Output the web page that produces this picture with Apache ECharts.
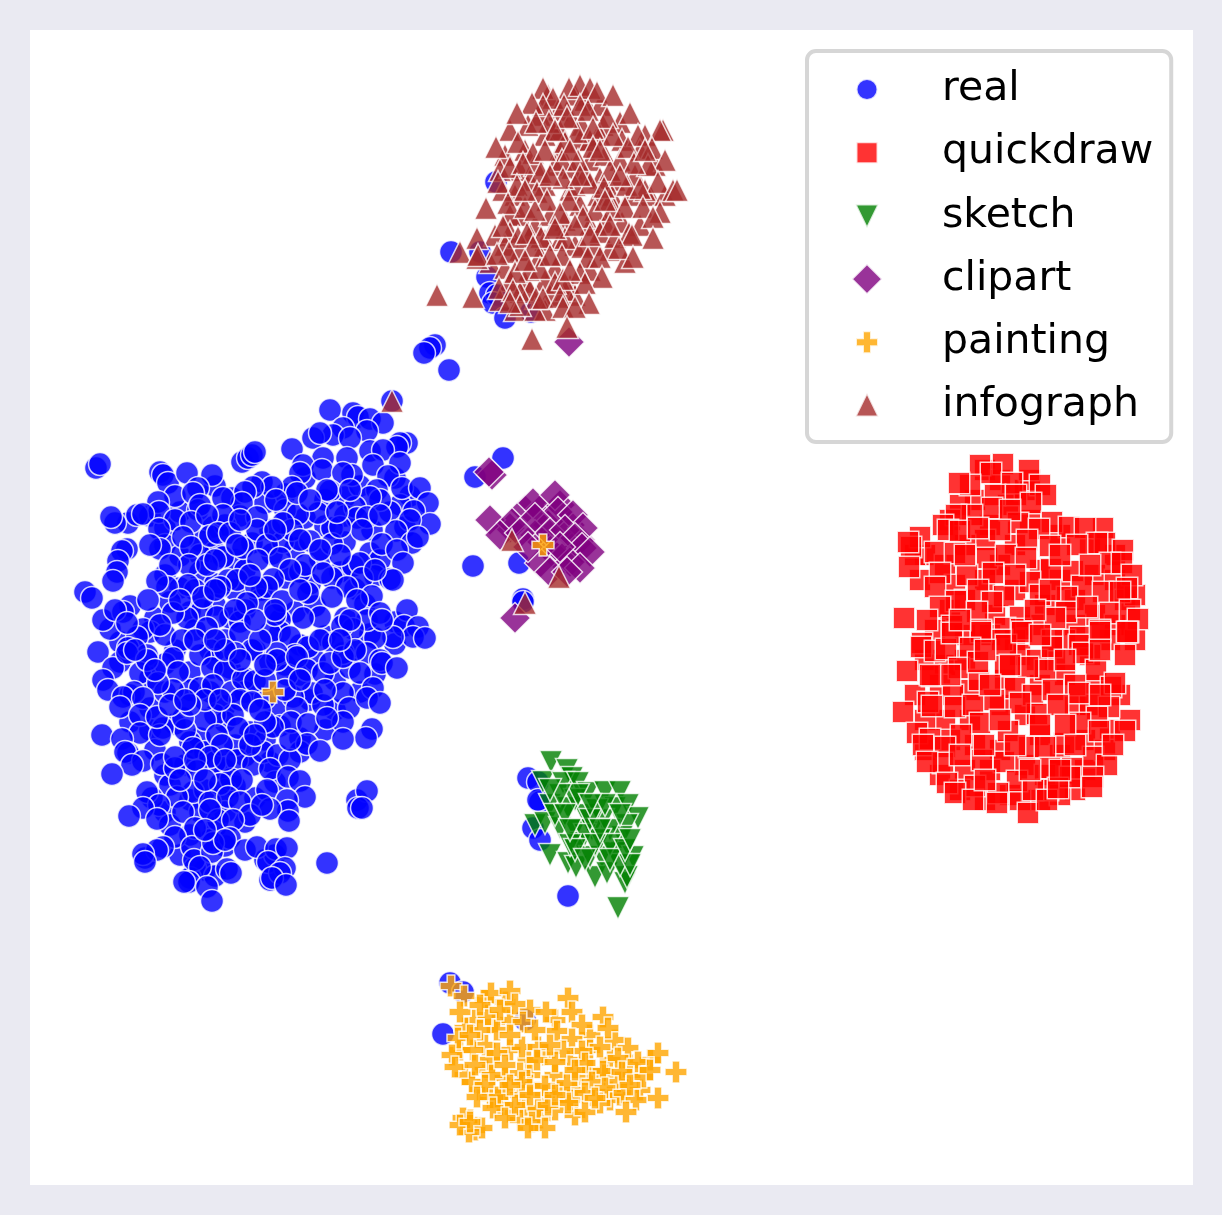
<!DOCTYPE html>
<html>
<head>
<meta charset="utf-8">
<style>
  html, body { margin: 0; padding: 0; background: #eaeaf2; }
  #chart { width: 1222px; height: 1215px; }
</style>
<script src="https://cdn.jsdelivr.net/npm/echarts@6/dist/echarts.min.js"></script>
</head>
<body>
<div id="chart"></div>
<script>
// embedding values (x, y), axis runs 30-1193 / 30-1185
const domains = ['real', 'quickdraw', 'sketch', 'clipart', 'painting', 'infograph'];

const real = [
[215,486],[232,498],[262,482],[285,494],[305,478],[345,497],[360,486],[395,478],[410,496],[265,503],[325,500],[400,505],
[150,516],[165,528],[180,512],[213,527],[240,516],[270,530],[305,518],[325,526],[345,516],[372,530],[390,512],[405,527],[225,525],[285,510],
[165,545],[180,556],[200,541],[215,552],[235,560],[252,543],[272,554],[295,548],[320,559],[345,542],[370,553],[380,560],[200,555],[283,542],
[165,575],[180,588],[200,572],[215,584],[245,570],[262,590],[285,578],[310,584],[340,572],[355,589],[375,576],[195,590],[235,590],[300,572],
[130,606],[155,618],[170,602],[190,612],[215,605],[230,618],[260,600],[295,612],[315,606],[345,618],[365,604],[395,622],[245,610],[280,620],
[120,642],[150,632],[175,650],[195,630],[225,640],[255,650],[280,632],[300,645],[325,636],[355,648],[370,634],[395,644],[210,650],[240,622],
[120,662],[150,678],[165,664],[190,672],[215,660],[245,678],[270,662],[300,675],[315,660],[335,680],[350,668],[375,674],[230,668],[285,665],
[130,695],[150,708],[165,692],[190,690],[225,706],[245,692],[275,708],[310,700],[335,710],[360,692],[210,692],[265,698],
[130,722],[150,730],[175,724],[200,738],[225,722],[250,732],[280,726],[300,738],[325,730],[190,742],[215,715],[265,740],
[155,750],[185,765],[205,752],[225,770],[245,756],[270,762],[300,752],[165,775],[235,745],[215,762],
[170,785],[190,800],[205,790],[235,786],[255,798],[275,782],[225,790],[165,812],
[200,812],[215,828],[245,822],[210,840],[170,825],[225,812],[190,835],
[180,855],[205,870],[225,846],[195,868],[215,876],[265,860],[275,855],[145,858],[270,880],[190,878],
[96,468],[100,464],[160,472],[163,475],[168,483],[187,473],[212,475],[175,496],[198,488],[193,493],[242,462],[248,458],[252,455],[255,452],
[330,410],[353,413],[358,417],[370,419],[392,401],[383,423],[343,428],[333,435],[313,438],[367,431],[350,438],[320,433],[407,443],[400,443],[397,447],[370,451],[383,450],[292,449],
[347,458],[323,458],[303,465],[322,470],[352,475],[343,473],[373,465],[400,463],[388,476],[300,473],[402,488],[420,488],[330,491],[327,490],[377,490],[380,500],[370,497],[428,503],[414,511],[430,524],[410,520],[396,531],[412,543],[418,537],[382,544],[397,550],[403,563],[390,579],[393,580],
[355,507],[357,518],[367,517],[380,515],[362,530],[332,528],[332,544],[340,527],[318,513],[337,512],[298,514],[292,530],[310,541],[300,540],[283,523],[292,487],[297,493],[272,487],[276,500],[253,487],[245,492],[242,503],[257,517],[223,498],[198,510],[200,505],[158,502],[159,512],[175,520],[191,522],[223,515],[207,515],[257,530],
[128,523],[115,523],[111,517],[137,515],[143,514],[159,529],[183,537],[210,536],[218,533],[230,533],[191,547],[160,549],[243,548],[267,545],[258,560],[280,558],[223,557],[237,545],[305,565],[290,570],[189,565],[207,565],[170,565],[127,549],[122,551],[118,561],[117,572],[113,581],[228,580],[237,580],[220,587],[273,579],[267,587],[256,587],[188,585],[167,587],[157,581],[85,592],[92,598],[148,600],
[353,566],[360,563],[332,578],[323,573],[362,578],[347,587],[308,593],[332,597],[372,596],[357,600],[407,610],[404,626],[418,627],[413,637],[425,638],[393,637],[375,638],[367,620],[353,629],[342,626],[380,613],[382,620],[320,617],[303,618],[282,601],[247,603],[202,610],[217,617],[187,618],[173,613],[203,597],[207,628],[240,633],[270,633],[290,637],[308,647],[343,653],[333,643],[367,653],[380,660],[165,635],[182,640],[143,629],[137,637],[110,629],[103,620],[123,612],[115,610],[127,623],[128,648],[98,652],[147,655],[200,655],[252,650],[235,653],[295,655],[277,653],
[113,668],[103,680],[108,690],[140,673],[127,653],[147,660],[173,658],[178,672],[173,690],[158,683],[134,692],[123,697],[120,707],[143,698],[212,668],[225,671],[200,688],[213,685],[232,692],[243,679],[255,681],[240,700],[252,702],[287,675],[277,660],[297,657],[307,670],[323,673],[330,663],[343,657],[360,673],[382,663],[397,668],[373,688],[312,693],[323,705],[343,693],[349,708],[367,698],[380,703],[293,697],[297,708],[291,722],[308,724],[343,722],[327,718],[372,729],[366,738],[343,739],[273,727],[265,722],[233,715],[238,728],[205,720],[217,735],[222,745],[185,730],[163,728],[140,715],[140,733],[160,735],[157,717],[183,718],
[102,735],[122,739],[128,753],[125,752],[143,761],[162,764],[175,768],[132,765],[112,774],[193,748],[175,757],[210,757],[197,771],[237,760],[253,765],[263,752],[278,755],[290,760],[270,769],[288,777],[307,744],[320,751],[300,781],[305,797],[267,790],[287,800],[288,811],[270,809],[289,821],[231,779],[220,784],[242,780],[193,792],[177,797],[152,798],[147,792],[159,805],[143,808],[210,802],[228,797],[240,802],[183,812],[250,815],[218,820],[233,820],[129,816],[157,819],[195,828],[175,837],[230,838],[163,847],[157,850],[143,854],[145,862],[192,847],[194,860],[212,852],[213,843],[200,867],[245,850],[257,847],[276,849],[287,848],[268,862],[285,868],[280,873],[272,878],[286,885],[227,869],[231,873],[189,882],[184,882],[207,887],[212,901],[327,863],[357,800],[367,791],[358,808],[362,808],
[150,545],[215,560],[250,575],[300,590],[275,615],[235,610],[195,640],[225,650],[260,640],[255,620],[320,640],[285,690],[265,680],[205,700],[190,705],[170,705],[195,760],[225,760],[250,745],[205,780],[180,780],[260,710],[325,690],[355,650],[155,670],[135,650],[160,625],[215,590],[180,600],[240,520],[275,530],[310,500],[350,490],[340,555],[275,610],[300,680],[220,700],[255,735],[290,740],[185,700],[240,660],[265,665],[215,640],[210,810],[225,840],[205,830],[262,805],[375,570],[320,550],[350,620],[340,640],
[451,252],[480,252],[496,182],[487,277],[490,293],[497,295],[493,303],[505,318],[531,312],[435,345],[430,348],[424,353],[449,370],
[503,458],[475,477],[473,566],[519,563],[523,599],[523,602],
[528,778],[538,782],[540,802],[538,800],[533,828],[540,840],[568,896],
[450,983],[463,992],[443,1034],[525,1020]
];

const quickdraw = [
[985,470],[1000,480],[975,500],[1008,505],[1025,490],[960,505],[950,520],[990,525],[1030,520],[1060,535],[1015,545],[985,540],[965,545],[1090,545],[1115,555],[925,555],[945,565],[1000,565],[1040,570],[1060,580],[1095,575],[1115,580],[920,580],[955,585],[985,580],[1015,590],[1075,600],[1125,600],[950,610],[965,600],[995,615],[1045,605],[1095,615],[1115,625],[935,630],[965,635],[1035,625],[1075,625],[990,635],[1015,640],[1065,640],[1110,640],[925,660],[945,665],[965,660],[1020,655],[1055,660],[1090,655],[940,685],[970,690],[1005,680],[1040,685],[1065,675],[1095,685],[1120,695],[915,695],[945,720],[970,720],[1025,715],[1075,705],[1090,705],[1000,705],[925,720],[950,740],[1040,735],[1085,740],[1110,730],[1000,750],[1060,755],[975,745],[925,750],[940,775],[965,770],[990,770],[1025,765],[1045,775],[1085,770],[1105,750],[1010,795],[1040,800],[1075,790],[985,800],[960,790],[1020,800],[1060,795],[1130,720],[1135,640],[1135,595],[915,555],[1030,480],
[980,465],[1003,464],[1029,470],[991,473],[970,485],[959,483],[1012,483],[1040,485],[1046,495],[995,495],[1016,495],[1031,503],[992,508],[972,515],[956,515],[1052,522],[1018,523],[1039,529],[1069,527],[943,525],[948,530],[960,531],[1103,528],[1085,528],[978,528],[920,537],[911,547],[908,542],[1027,540],[1105,543],[1097,543],[1077,545],[1050,546],[935,552],[955,553],[987,558],[1006,555],[1026,558],[1123,550],[1110,563],[909,567],[940,573],[1051,569],[1073,571],[1122,563],[1132,575],[993,573],[967,575],[1030,582],[1082,586],[935,587],[978,590],[1004,596],[992,602],[1040,595],[1103,592],[1127,588],[956,601],[1067,597],[1120,592],[940,607],[904,618],[927,620],[952,626],[977,612],[1020,617],[1066,612],[1087,607],[1110,613],[1130,610],[1138,619],[1055,618],[981,630],[1005,628],[1021,629],[1100,630],[1128,632],[922,643],[1080,637],[1052,640],[1002,640],
[921,647],[935,651],[946,649],[952,633],[981,632],[970,648],[1006,645],[1022,632],[1037,660],[1052,647],[1079,645],[1083,653],[1100,632],[1127,632],[907,671],[932,676],[959,668],[979,680],[978,662],[1005,666],[1045,670],[1028,667],[1096,670],[1075,685],[1015,688],[1033,695],[1053,690],[1079,693],[1111,687],[1115,683],[953,695],[928,702],[932,706],[955,707],[994,700],[903,712],[1037,714],[1109,707],[1097,717],[973,705],[1020,703],[1058,705],[980,723],[1008,731],[1064,743],[1080,723],[1099,731],[1125,731],[917,733],[961,735],[930,739],[923,745],[945,747],[982,760],[1004,762],[1029,747],[1045,747],[943,763],[1093,757],[1107,765],[1113,745],[927,762],[984,745],[1072,768],[1050,768],[1017,781],[1048,790],[975,786],[998,793],[1093,777],[1092,787],[947,783],[955,793],[1033,790],[1070,777],[1028,813],[973,800],[997,803],[1047,800],[1058,788],
[1010,510],[1000,530],[1060,555],[1015,575],[1050,590],[960,620],[985,650],[1040,635],[1065,660],[1010,665],[950,675],[1000,720],[1040,725],[1065,725],[960,755],[1030,770],[1075,745],[1100,650],[1015,745],[965,555],[1090,565],[1035,610],[990,685],[1060,770],[930,675],[1125,655],[1100,695],[985,780]
];

const sketch = [
[551,762],[567,770],[572,778],[543,782],[563,783],[578,783],[588,793],[605,792],[620,792],[550,805],[568,808],[585,815],[615,808],[628,805],[638,818],[535,825],[545,823],[560,828],[603,820],[627,825],[575,830],[592,830],[622,837],[550,855],[580,843],[568,863],[576,867],[602,857],[615,853],[633,857],[595,877],[607,873],[625,883],[627,877],[618,908],[590,857],[597,810],
[575,800],[555,815],[610,830],[585,835],[600,840],[570,845],[620,865],[630,865],[610,845],[578,795],[560,795],[565,815],[590,820],[605,805],[620,815],[575,850],[595,845],[610,860],[585,860],[625,850],[570,830],[550,790],[590,805],[600,830],[630,840]
];

const clipart = [
[510,528],[525,510],[540,510],[548,525],[560,505],[570,525],[580,540],[555,555],[545,545],[565,555],[535,535],
[492,475],[489,472],[490,520],[512,523],[500,535],[533,503],[555,495],[558,512],[573,515],[535,518],[550,533],[520,533],[583,528],[565,530],[575,538],[582,548],[590,552],[570,562],[540,563],[550,572],[580,568],[567,572],[515,618],[569,342],[528,547],[560,547]
];

const painting = [
[273,692],[543,545],
[485,1000],[505,1002],[475,1020],[495,1022],[510,1020],[465,1028],[530,1010],[555,1020],[590,1035],[615,1040],[460,1050],[485,1045],[510,1050],[528,1060],[545,1055],[570,1060],[590,1050],[610,1060],[630,1065],[650,1060],[465,1075],[485,1070],[505,1078],[530,1075],[555,1075],[580,1075],[605,1075],[630,1075],[480,1090],[505,1092],[520,1095],[545,1095],[560,1092],[575,1090],[610,1092],[640,1090],[490,1098],[510,1112],[525,1110],[555,1110],[575,1115],[610,1100],[520,1120],[540,1118],[470,1120],[475,1130],[500,1105],[530,1085],[570,1100],[590,1070],[490,1060],[620,1095],
[451,986],[464,996],[491,993],[510,991],[515,1004],[460,1012],[488,1015],[523,1022],[546,1012],[568,998],[572,1012],[582,1025],[603,1017],[608,1028],[458,1038],[497,1030],[557,1031],[572,1039],[522,1047],[538,1047],[473,1050],[497,1053],[600,1047],[582,1051],[563,1051],[628,1048],[658,1053],[452,1055],[455,1067],[537,1060],[555,1062],[618,1058],[585,1063],[603,1071],[638,1062],[676,1072],[643,1077],[492,1075],[520,1073],[472,1082],[485,1085],[545,1086],[567,1083],[618,1082],[592,1082],[605,1088],[498,1097],[477,1097],[585,1093],[624,1093],[658,1098],[636,1100],[515,1105],[538,1108],[568,1103],[600,1103],[493,1108],[585,1112],[626,1112],[505,1118],[532,1122],[548,1105],[482,1128],[469,1132],[463,1118],[460,1125],[545,1128],[528,1128],[470,1122],[622,1072],[595,1098],[522,1082],
[480,1030],[510,1035],[475,1065],[505,1065],[530,1095],[555,1095],[510,1085],[575,1070],[470,1035],[535,1030],[650,1070],[630,1085],[550,1045],[480,1005],[500,1010]
];

const infograph = [
[392,401],[512,540],[559,577],[525,603],
[548,95],[558,110],[575,95],[585,100],[600,105],[572,118],[540,115],[528,125],[555,130],[582,125],[603,125],[620,122],[645,135],[510,130],[525,150],[545,135],[560,150],[580,140],[600,135],[622,140],[640,150],[505,155],[520,170],[535,165],[555,165],[572,168],[590,160],[605,155],[620,160],[655,165],[500,170],[515,195],[530,180],[545,185],[570,190],[585,175],[600,178],[615,180],[635,175],[650,195],[665,195],[503,190],[520,215],[535,225],[550,215],[565,220],[580,205],[598,195],[612,195],[630,195],[645,190],[510,215],[495,235],[510,232],[545,240],[560,240],[590,225],[605,222],[622,222],[640,225],[505,245],[520,250],[540,255],[555,268],[575,245],[595,245],[610,250],[625,262],[490,262],[505,268],[525,282],[545,280],[570,285],[590,270],[510,280],[500,300],[530,290],[550,295],[520,292],[545,310],[575,295],[565,290],[515,310],[535,310],[555,225],[575,185],[590,140],[610,200],[530,235],[560,130],
[543,88],[569,88],[580,85],[590,88],[597,92],[613,95],[553,98],[543,105],[532,103],[564,105],[517,113],[630,113],[580,105],[607,117],[588,110],[549,122],[536,122],[663,130],[660,130],[577,132],[593,128],[567,117],[638,135],[613,135],[496,147],[518,142],[565,142],[593,147],[628,147],[652,148],[533,153],[562,160],[510,167],[665,160],[648,165],[634,163],[610,170],[541,172],[523,163],[578,160],[563,178],[590,183],[627,185],[604,187],[658,182],[673,190],[677,190],[537,192],[517,185],[498,182],[640,188],[508,203],[486,208],[569,200],[525,207],[547,200],[595,210],[612,210],[625,207],[560,213],[643,207],[660,212],[653,217],[503,226],[583,217],[541,237],[565,238],[600,232],[615,237],[629,233],[632,235],[653,238],[518,237],[527,233],[477,238],[555,228],[533,246],[582,247],[460,252],[477,258],[478,255],[509,252],[497,254],[562,255],[588,257],[619,248],[633,257],[600,257],[529,270],[515,272],[540,268],[602,277],[580,273],[555,283],[563,279],[585,283],[499,288],[437,295],[473,297],[513,290],[536,298],[543,298],[520,305],[510,302],[560,297],[589,303],[563,307],[575,307],[567,327],[532,339],
[555,130],[600,150],[580,175],[545,150],[620,175],[605,200],[535,210],[575,225],[550,255],[525,190],[645,150],[590,235],[610,225],[550,175],[570,150],[525,260],[570,270]
];

const symbols = ['circle', 'rect', 'triangle', 'diamond', 'path://M6.5 0H13.5V6.5H20V13.5H13.5V20H6.5V13.5H0V6.5H6.5Z', 'triangle'];
const legendIcons = [
  'path://M0 0M30 30M15 4.5A10.5 10.5 0 1 1 14.99 4.5Z',
  'path://M0 0M30 30M4.5 4.5H25.5V25.5H4.5Z',
  'path://M0 0M30 30M3.5 3.5H26.5L15 27Z',
  'path://M0 0M30 30M15 0L30 15 15 30 0 15Z',
  'path://M0 0M30 30M11 4H19V11H26V19H19V26H11V19H4V11H11Z',
  'path://M0 0M30 30M15 2.5L26.5 26H3.5Z'
];
const colors = ['#0000ff', '#ff0000', '#008000', '#800080', '#ffa500', '#a52a2a'];
const sizes = [23, 21.5, 23, 31, 22, 23];
const pointLists = [real, quickdraw, sketch, clipart, painting, infograph];

const chart = echarts.init(document.getElementById('chart'));
chart.setOption({
  animation: false,
  backgroundColor: '#eaeaf2',
  grid: { left: 30, right: 29, top: 30, bottom: 30, show: true, backgroundColor: '#ffffff', borderWidth: 0 },
  xAxis: { type: 'value', min: 30, max: 1193, show: false },
  yAxis: { type: 'value', min: 30, max: 1185, inverse: true, show: false },
  legend: {
    left: 807,
    top: 51,
    orient: 'vertical',
    padding: [18, 18, 16, 44],
    itemGap: 22.2,
    itemWidth: 30,
    itemHeight: 30,
    backgroundColor: '#ffffff',
    borderColor: '#d6d6d6',
    borderWidth: 4,
    borderRadius: 9,
    data: domains.map((name, i) => ({ name: name, icon: legendIcons[i] })),
    textStyle: { fontFamily: 'DejaVu Sans', fontSize: 41, color: '#000000', padding: [0, 0, 0, 55] }
  },
  series: domains.map((name, i) => ({
    name: name,
    type: 'scatter',
    data: pointLists[i],
    symbol: symbols[i],
    symbolSize: sizes[i],
    symbolRotate: name === 'sketch' ? 180 : 0,
    z: 2 + i,
    itemStyle: { color: colors[i], opacity: 0.8, borderColor: '#ffffff', borderWidth: 1.5 },
    emphasis: { disabled: true }
  }))
});
</script>
</body>
</html>
